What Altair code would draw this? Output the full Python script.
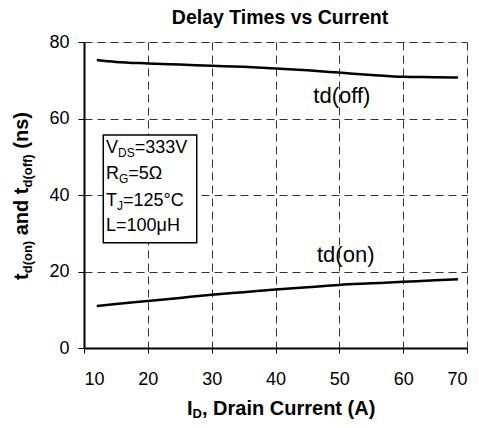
import altair as alt
import pandas as pd

FONT = "Liberation Sans"

# ---- data ----
current = [12, 15, 20, 25, 30, 35, 40, 45, 50, 55, 60, 65, 68.6]
td_off = [75.3, 74.8, 74.4, 74.1, 73.8, 73.5, 73.1, 72.6, 72.0, 71.4, 70.9, 70.8, 70.7]
td_on = [11.0, 11.5, 12.3, 13.1, 13.9, 14.6, 15.3, 15.9, 16.5, 16.9, 17.3, 17.7, 18.0]
x_ticks = [10, 20, 30, 40, 50, 60, 70]
y_ticks = [0, 20, 40, 60, 80]

W, H = 383, 306

df = pd.DataFrame({
    "current": current * 2,
    "delay": td_off + td_on,
    "series": ["td(off)"] * len(current) + ["td(on)"] * len(current),
})

xs = alt.Scale(domain=[10, 70], nice=False)
ys = alt.Scale(domain=[0, 80], nice=False)

x_axis = alt.Axis(values=x_ticks, title=None, grid=True, gridDash=[8, 5], gridColor="#333",
                  gridWidth=1, domainColor="black", domainWidth=2, tickColor="black",
                  tickSize=5, tickWidth=1, labelFont=FONT, labelFontSize=18,
                  labelColor="black", labelPadding=17)
y_axis = alt.Axis(values=y_ticks, title=None, grid=True, gridDash=[8, 5], gridColor="#333",
                  gridWidth=1, domainColor="black", domainWidth=2, tickColor="black",
                  tickSize=6, tickWidth=1, labelFont=FONT, labelFontSize=18,
                  labelColor="black", labelPadding=9)

lines = alt.Chart(df).mark_line(color="black", strokeWidth=2.5, interpolate="monotone").encode(
    x=alt.X("current:Q", scale=xs, axis=x_axis),
    y=alt.Y("delay:Q", scale=ys, axis=y_axis),
    detail="series:N",
)

# series labels
lab_df = pd.DataFrame({"x": [50.4, 51.0], "y": [64.05, 22.5], "t": ["td(off)", "td(on)"]})
labels = alt.Chart(lab_df).mark_text(font=FONT, fontSize=22, align="center",
                                     baseline="alphabetic", color="black").encode(
    x=alt.X("x:Q", scale=xs), y=alt.Y("y:Q", scale=ys), text="t:N")

# condition box
box_df = pd.DataFrame({"x": [13.02], "x2": [27.66], "y": [55.7], "y2": [27.5]})
box = alt.Chart(box_df).mark_rect(fill="white", stroke="black", strokeWidth=1.5).encode(
    x=alt.X("x:Q", scale=xs), x2="x2:Q", y=alt.Y("y:Q", scale=ys), y2="y2:Q")

box_x = 13.45
line_y = [51.06, 44.18, 37.2, 30.67]
pieces = [
    # (text, line index, dx, size, dy)
    ("V", 0, 0, 18, 0), ("DS", 0, 12.0, 12, 4), ("=333V", 0, 28.7, 18, 0),
    ("R", 1, 0, 18, 0), ("G", 1, 13.0, 12, 4), ("=5Ω", 1, 22.3, 18, 0),
    ("T", 2, 0, 18, 0), ("J", 2, 11.0, 12, 4), ("=125°C", 2, 17.0, 18, 0),
    ("L=100μH", 3, 0, 18, 0),
]
box_texts = []
for t, li, dx, size, dy in pieces:
    d = pd.DataFrame({"x": [box_x], "y": [line_y[li]], "t": [t]})
    box_texts.append(
        alt.Chart(d).mark_text(font=FONT, fontSize=size, align="left", baseline="alphabetic",
                               dx=dx, dy=dy, color="black").encode(
            x=alt.X("x:Q", scale=xs), y=alt.Y("y:Q", scale=ys), text="t:N"))


def px_text(t, x, y, size, bold=True, angle=0, align="left"):
    d = pd.DataFrame({"t": [t]})
    kw = dict(font=FONT, fontSize=size, align=align, baseline="alphabetic", color="black",
              fontWeight="bold" if bold else "normal")
    if angle:
        kw["angle"] = angle
    return alt.Chart(d).mark_text(**kw).encode(x=alt.value(x), y=alt.value(y), text="t:N")


# title
title = px_text("Delay Times vs Current", 196, -18, 19.5, align="center")

# x-axis title: I_D, Drain Current (A)
xt0 = 103
x_title = [
    px_text("I", xt0, 372.5, 20),
    px_text("D", xt0 + 5.6, 376, 13),
    px_text(", Drain Current (A)", xt0 + 5.6 + 9.4, 372.5, 20),
]

# y-axis title (rotated): t_d(on) and t_d(off) (ns)
yb = 238
bx = -56
y_title = [
    px_text("t", bx, yb, 20, angle=270),
    px_text("d(on)", bx + 4, yb - 6.7, 13, angle=270),
    px_text("and t", bx, yb - 44.7, 20, angle=270),
    px_text("d(off)", bx + 4, yb - 92.5, 13, angle=270),
    px_text("(ns)", bx, yb - 131.3, 20, angle=270),
]

chart = alt.layer(lines, box, *box_texts, labels, title, *x_title, *y_title).properties(
    width=W, height=H,
    autosize=alt.AutoSizeParams(type="none"),
    padding={"left": 76, "top": 34, "right": 4, "bottom": 72},
).configure_view(stroke="black", strokeWidth=2).configure(background="white")

chart.save("out.html", embed_options={"renderer": "svg", "actions": False})
